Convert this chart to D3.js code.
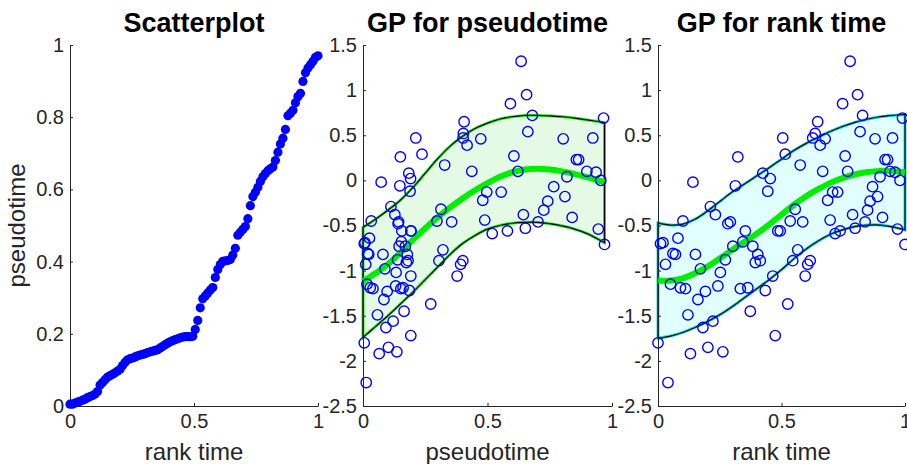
<!DOCTYPE html>
<html>
<head>
<meta charset="utf-8">
<script src="https://cdn.jsdelivr.net/npm/d3@7"></script>
<style>
body { margin: 0; background: #fff; }
text { font-family: "Liberation Sans", Arial, Helvetica, sans-serif; }
</style>
</head>
<body>
<div class="chart"></div>
<script>
// cells ordered by rank: pseudotime (sorted) and expression of each cell
const pseudotime = [
  0.005, 0.005, 0.008, 0.011, 0.013, 0.016, 0.019, 0.023, 0.026, 0.029,
  0.033, 0.040, 0.058, 0.065, 0.073, 0.080, 0.084, 0.088, 0.092, 0.097,
  0.102, 0.112, 0.121, 0.128, 0.131, 0.133, 0.136, 0.139, 0.141, 0.143,
  0.145, 0.148, 0.150, 0.152, 0.154, 0.156, 0.161, 0.165, 0.170, 0.174,
  0.178, 0.181, 0.184, 0.186, 0.189, 0.191, 0.192, 0.192, 0.192, 0.193,
  0.212, 0.237, 0.272, 0.297, 0.305, 0.313, 0.321, 0.328, 0.356, 0.378,
  0.392, 0.401, 0.402, 0.403, 0.406, 0.418, 0.437, 0.473, 0.481, 0.489,
  0.497, 0.519, 0.555, 0.580, 0.592, 0.606, 0.622, 0.635, 0.644, 0.652,
  0.657, 0.662, 0.680, 0.703, 0.726, 0.742, 0.766, 0.804, 0.811, 0.819,
  0.840, 0.857, 0.866, 0.899, 0.923, 0.936, 0.945, 0.955, 0.966, 0.970
];
const expression = [
  -1.80, -0.70, -0.69, -0.93, -2.24, -1.15, -0.81, -0.82, -0.64, -1.19,
  -0.45, -1.20, -1.49, -1.92, -0.02, -0.82, -1.32, -0.98, -1.63, -1.23,
  -1.85, -0.29, -1.56, -0.38, -1.17, -1.02, -1.90, -0.88, -0.48, -0.46,
  -0.73, -0.06, 0.26, -1.20, -0.68, -0.56, -1.19, -1.45, -0.73, -0.91,
  -0.82, -0.89, 0.08, -1.22, -0.12, 0.02, -1.06, -1.72, -0.56, -0.56,
  0.47, 0.29, -1.37, -0.45, -0.89, -0.32, -0.77, 0.17, -0.46, -1.06,
  -0.93, -0.89, 0.47, 0.52, 0.65, 0.39, 0.10, 0.46, -0.22, -0.44,
  -0.13, -0.59, -0.13, -0.56, 0.85, 0.27, 0.10, 1.32, -0.38, -0.53,
  0.95, 0.54, 0.72, -0.46, -0.33, -0.23, -0.07, 0.46, -0.18, 0.04,
  -0.41, 0.23, 0.23, 0.10, 0.47, 0.09, -0.54, 0.00, 0.69, -0.71
];

// GP fit against pseudotime
const gridP  = [0, 0.05, 0.1, 0.15, 0.2, 0.25, 0.3, 0.35, 0.4, 0.45, 0.5, 0.55, 0.6, 0.65, 0.7, 0.75, 0.8, 0.85, 0.9, 0.95, 0.97];
const meanP  = [-1.12, -1.03, -0.93, -0.80, -0.66, -0.53, -0.41, -0.30, -0.20, -0.11, -0.03, 0.04, 0.09, 0.12, 0.13, 0.12, 0.10, 0.07, 0.035, -0.005, -0.02];
const upperP = [-0.52, -0.43, -0.33, -0.22, -0.08, 0.08, 0.24, 0.38, 0.49, 0.575, 0.635, 0.68, 0.705, 0.72, 0.72, 0.715, 0.705, 0.69, 0.67, 0.65, 0.64];
const lowerP = [-1.74, -1.62, -1.50, -1.37, -1.24, -1.10, -0.96, -0.82, -0.70, -0.61, -0.54, -0.50, -0.475, -0.465, -0.465, -0.48, -0.505, -0.54, -0.59, -0.66, -0.69];

// GP fit against rank time
const gridR  = [0, 0.05, 0.1, 0.15, 0.2, 0.25, 0.3, 0.35, 0.4, 0.45, 0.5, 0.55, 0.6, 0.65, 0.7, 0.75, 0.8, 0.85, 0.9, 0.95, 1];
const meanR  = [-1.11, -1.11, -1.085, -1.03, -0.955, -0.865, -0.77, -0.68, -0.59, -0.49, -0.38, -0.27, -0.175, -0.095, -0.025, 0.028, 0.068, 0.093, 0.105, 0.103, 0.09];
const upperR = [-0.47, -0.495, -0.485, -0.43, -0.34, -0.235, -0.13, -0.04, 0.05, 0.14, 0.235, 0.33, 0.41, 0.48, 0.545, 0.60, 0.645, 0.68, 0.705, 0.72, 0.73];
const lowerR = [-1.75, -1.725, -1.685, -1.63, -1.565, -1.49, -1.40, -1.30, -1.20, -1.10, -0.99, -0.87, -0.76, -0.67, -0.595, -0.545, -0.51, -0.495, -0.495, -0.515, -0.55];

const xTicks = [0, 0.5, 1];
const yTicksScatter = [0, 0.2, 0.4, 0.6, 0.8, 1];
const yTicksGP = [-2.5, -2, -1.5, -1, -0.5, 0, 0.5, 1, 1.5];
const titles = ['Scatterplot', 'GP for pseudotime', 'GP for rank time'];
const xTitles = ['rank time', 'pseudotime', 'rank time'];
const yTitle = 'pseudotime';

const width = 907, height = 464;
const plotTop = 45, plotBottom = 406;
const panels = [[70, 318], [363, 612], [658, 905]];
const axisColor = '#262626';

const rankTime = pseudotime.map((d, i) => i / (pseudotime.length - 1));

const svg = d3.select('.chart')
  .append('svg')
  .attr('width', width)
  .attr('height', height);

function drawAxes(p, x, y, yTicks) {
  const g = svg.append('g');
  const xAxis = d3.axisBottom(x)
    .tickValues(xTicks)
    .tickFormat(d => String(d))
    .tickSizeInner(-3)
    .tickSizeOuter(0)
    .tickPadding(8);
  const yAxis = d3.axisLeft(y)
    .tickValues(yTicks)
    .tickFormat(d => String(d))
    .tickSizeInner(-3)
    .tickSizeOuter(0)
    .tickPadding(6);

  g.append('g')
    .attr('transform', `translate(0,${plotBottom})`)
    .call(xAxis);
  g.append('g')
    .attr('transform', `translate(${panels[p][0]},0)`)
    .call(yAxis);

  g.selectAll('.domain, .tick line').attr('stroke', axisColor).attr('stroke-width', 1);
  g.selectAll('.tick text')
    .attr('fill', axisColor)
    .attr('font-size', 20)
    .style('font-family', '"Liberation Sans", Arial, sans-serif');

  const cx = (panels[p][0] + panels[p][1]) / 2;
  svg.append('text')
    .attr('x', cx)
    .attr('y', 32)
    .attr('text-anchor', 'middle')
    .attr('font-size', 27)
    .attr('font-weight', 'bold')
    .attr('fill', '#000')
    .text(titles[p]);
  svg.append('text')
    .attr('x', cx)
    .attr('y', 460)
    .attr('text-anchor', 'middle')
    .attr('font-size', 24)
    .attr('fill', axisColor)
    .text(xTitles[p]);
}

// panel 1: scatterplot of pseudotime vs rank time
const x1 = d3.scaleLinear().domain([0, 1]).range(panels[0]);
const y1 = d3.scaleLinear().domain([0, 1]).range([plotBottom, plotTop]);
drawAxes(0, x1, y1, yTicksScatter);

svg.append('text')
  .attr('transform', `translate(25,${(plotTop + plotBottom) / 2}) rotate(-90)`)
  .attr('text-anchor', 'middle')
  .attr('font-size', 24)
  .attr('fill', axisColor)
  .text(yTitle);

svg.append('g')
  .selectAll('circle')
  .data(pseudotime)
  .enter()
  .append('circle')
  .attr('cx', (d, i) => x1(rankTime[i]))
  .attr('cy', d => y1(d))
  .attr('r', 4.6)
  .attr('fill', '#0000ff');

// panels 2 and 3: GP fits
function drawGP(p, xs, grid, mean, upper, lower, fillColor, edgeColor) {
  const x = d3.scaleLinear().domain([0, 1]).range(panels[p]);
  const y = d3.scaleLinear().domain([-2.5, 1.5]).range([plotBottom, plotTop]);

  const band = grid.map((d, i) => ({t: d, m: mean[i], u: upper[i], l: lower[i]}));

  const area = d3.area()
    .x(d => x(d.t))
    .y0(d => y(d.l))
    .y1(d => y(d.u))
    .curve(d3.curveCatmullRom);

  const g = svg.append('g');
  g.append('path')
    .datum(band)
    .attr('d', area)
    .attr('fill', fillColor)
    .attr('stroke', edgeColor)
    .attr('stroke-width', 3);
  g.append('path')
    .datum(band)
    .attr('d', area)
    .attr('fill', 'none')
    .attr('stroke', '#000')
    .attr('stroke-width', 1.2);

  drawAxes(p, x, y, yTicksGP);

  const meanLine = d3.line()
    .x(d => x(d.t))
    .y(d => y(d.m))
    .curve(d3.curveCatmullRom);
  svg.append('path')
    .datum(band)
    .attr('d', meanLine)
    .attr('fill', 'none')
    .attr('stroke', '#00ee00')
    .attr('stroke-width', 6);

  svg.append('g')
    .selectAll('circle')
    .data(expression)
    .enter()
    .append('circle')
    .attr('cx', (d, i) => x(xs[i]))
    .attr('cy', d => y(d))
    .attr('r', 5.2)
    .attr('fill', 'none')
    .attr('stroke', '#0000ff')
    .attr('stroke-width', 1.4);
}

drawGP(1, pseudotime, gridP, meanP, upperP, lowerP, '#e4fae4', '#33ee33');
drawGP(2, rankTime, gridR, meanR, upperR, lowerR, '#e2ffff', '#22dddd');
</script>
</body>
</html>
